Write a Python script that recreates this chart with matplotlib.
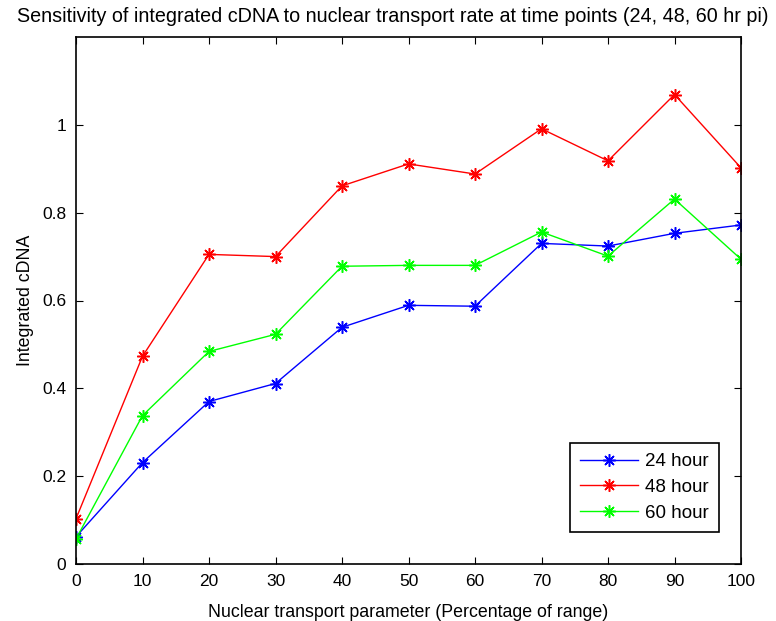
import matplotlib
matplotlib.use("Agg")
import matplotlib.pyplot as plt

x = [0, 10, 20, 30, 40, 50, 60, 70, 80, 90, 100]
h24 = [0.062, 0.231, 0.370, 0.411, 0.539, 0.589, 0.587, 0.730, 0.724, 0.753, 0.772]
h48 = [0.103, 0.473, 0.705, 0.700, 0.861, 0.911, 0.888, 0.991, 0.918, 1.069, 0.902]
h60 = [0.057, 0.338, 0.484, 0.523, 0.678, 0.680, 0.680, 0.756, 0.701, 0.831, 0.694]
labels = ["24 hour", "48 hour", "60 hour"]
yticks = [0, 0.2, 0.4, 0.6, 0.8, 1]
yticklabels = ["0", "0.2", "0.4", "0.6", "0.8", "1"]

plt.rcParams['font.family'] = ['Liberation Sans', 'DejaVu Sans']

fig = plt.figure(figsize=(7.76, 6.21), dpi=100)
ax = fig.add_axes([76/776, 57/621, 665/776, 527/621])
for y, c, lab in zip([h24, h48, h60], ['#0000ff', '#ff0000', '#00ff00'], labels):
    ax.plot(x, y, color=c, marker=(8, 2, 0), markersize=9, markeredgewidth=1.1, lw=1, label=lab)

ax.set_xlim(0, 100)
ax.set_ylim(0, 1.2)
ax.set_xticks(x)
ax.set_yticks(yticks)
ax.set_yticklabels(yticklabels)
ax.tick_params(direction='in', top=True, right=True, length=5, labelsize=12.5, pad=7, colors='black')
for s in ax.spines.values():
    s.set_linewidth(1.2)
ax.set_xlabel("Nuclear transport parameter (Percentage of range)", fontsize=12.8, labelpad=11)
ax.set_ylabel("Integrated cDNA", fontsize=12.8, labelpad=6)
fig.text(393/776, 1 - 17/621, "Sensitivity of integrated cDNA to nuclear transport rate at time points (24, 48, 60 hr pi)",
         fontsize=14.2, ha='center', va='center')
leg = ax.legend(loc='lower right', bbox_to_anchor=(0.967, 0.061), fancybox=False, edgecolor='black',
                framealpha=1, fontsize=13.5, handlelength=3.1, handletextpad=0.35, borderpad=0.55,
                labelspacing=0.45, borderaxespad=0)
leg.get_frame().set_linewidth(1.2)

fig.savefig("out.png", dpi=100)
